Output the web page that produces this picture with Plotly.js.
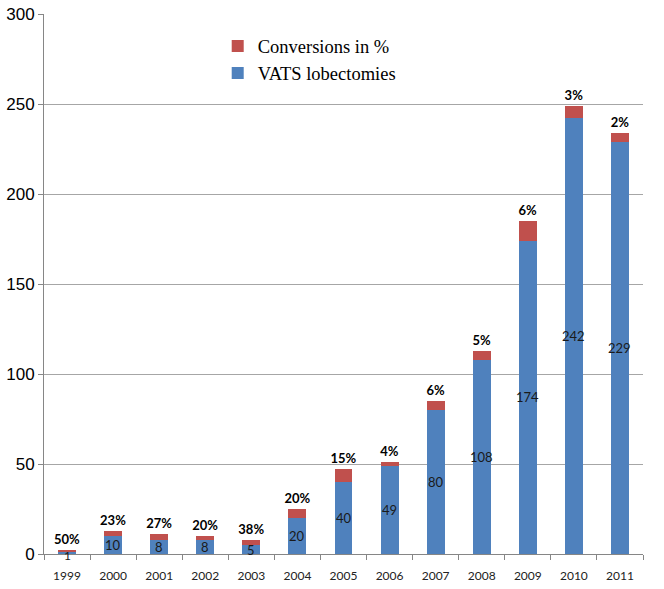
<!DOCTYPE html>
<html><head><meta charset="utf-8">
<script src="https://cdn.plot.ly/plotly-3.0.1.min.js"></script>
<style>html,body{margin:0;padding:0;background:#fff}#chart{width:664px;height:589px}</style>
</head><body><div id="chart"></div>
<script>
const years = ['1999','2000','2001','2002','2003','2004','2005','2006','2007','2008','2009','2010','2011'];
const vats = [1,10,8,8,5,20,40,49,80,108,174,242,229];
const conversions = [1,3,3,2,3,5,7,2,5,5,11,7,5];
const convPct = ['50%','23%','27%','20%','38%','20%','15%','4%','6%','5%','6%','3%','2%'];
const yTicks = [0,50,100,150,200,250,300];

const traces = [
  {type:'bar', name:'VATS lobectomies', x:years, y:vats,
   marker:{color:'#4F81BD', line:{width:0}},
   legendrank:2, hoverinfo:'none'},
  {type:'bar', name:'Conversions in %', x:years, y:conversions,
   marker:{color:'#C0504D', line:{width:0}},
   text:convPct.map(s=>'<b>'+s+'</b>'), textposition:'outside', textangle:0,
   constraintext:'none', cliponaxis:false,
   textfont:{family:'Lato, sans-serif', size:13, color:'#000'},
   legendrank:1, hoverinfo:'none'}
];

// category axis: annotation x given as the category index
const vatsLabels = years.map((yr,i)=>({
  x:i, y:vats[i]/2, xref:'x', yref:'y', text:String(vats[i]), showarrow:false,
  xanchor:'center', yanchor:'middle', yshift: vats[i] < 2 ? -2 : 0,
  font:{family:'Lato, sans-serif', size: vats[i] < 2 ? 12 : 13, color:'#1a1a1a'}
}));

const layout = {
  width:664, height:589,
  margin:{l:44, r:21, t:14, b:35},
  paper_bgcolor:'#fff', plot_bgcolor:'#fff',
  barmode:'stack', bargap:0.61,
  showlegend:true,
  annotations:vatsLabels,
  legend:{x:0.29, y:0.975, xanchor:'left', yanchor:'top', traceorder:'normal',
    tracegroupgap:6, bgcolor:'rgba(0,0,0,0)',
    font:{family:'Liberation Serif, serif', size:18.5, color:'#000'}},
  xaxis:{type:'category', categoryorder:'array', categoryarray:years,
    showline:true, linecolor:'#868686', linewidth:1,
    ticks:'outside', tickson:'boundaries', ticklen:5, tickcolor:'#868686',
    ticklabelstandoff:11,
    tickfont:{family:'Lato, sans-serif', size:12, color:'#222'},
    showgrid:false, zeroline:false, fixedrange:true},
  yaxis:{range:[0,300], tickvals:yTicks, ticktext:yTicks.map(String),
    showline:true, linecolor:'#868686', linewidth:1,
    ticks:'outside', ticklen:5, tickcolor:'#868686',
    showgrid:true, gridcolor:'#a6a6a6', gridwidth:1, zeroline:false,
    tickfont:{family:'Liberation Sans, Arial, sans-serif', size:17, color:'#000'},
    fixedrange:true}
};
Plotly.newPlot('chart', traces, layout, {displayModeBar:false, staticPlot:true});
</script></body></html>
